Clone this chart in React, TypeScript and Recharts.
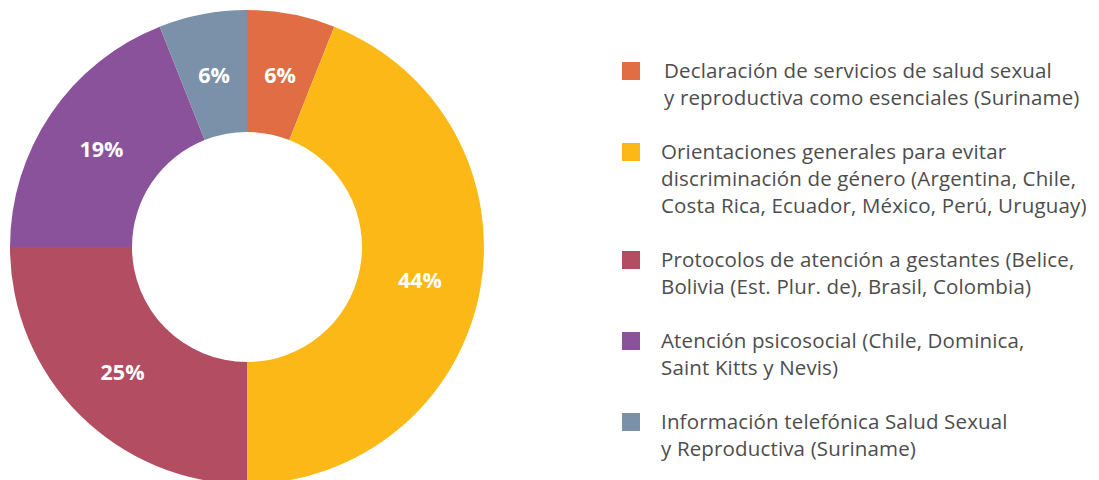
import React from "react";
import { PieChart, Pie, Cell, Legend } from "recharts";

const categories = [
  "Declaración de servicios de salud sexual\ny reproductiva como esenciales (Suriname)",
  "Orientaciones generales para evitar\ndiscriminación de género (Argentina, Chile,\nCosta Rica, Ecuador, México, Perú, Uruguay)",
  "Protocolos de atención a gestantes (Belice,\nBolivia (Est. Plur. de), Brasil, Colombia)",
  "Atención psicosocial (Chile, Dominica,\nSaint Kitts y Nevis)",
  "Información telefónica Salud Sexual\ny Reproductiva (Suriname)",
];
const values = [6, 44, 25, 19, 6];
const colors = ["#E06D43", "#FBB817", "#B34E62", "#8B529C", "#7B91A9"];

const data = categories.map((name, i) => ({ name, value: values[i] }));

const RAD = Math.PI / 180;

const renderLabel = (props: any) => {
  const { cx, cy, midAngle, innerRadius, outerRadius, value } = props;
  const r = (innerRadius + outerRadius) / 2;
  const x = cx + r * Math.cos(-midAngle * RAD);
  const y = cy + r * Math.sin(-midAngle * RAD);
  return (
    <text
      x={x}
      y={y}
      fill="#ffffff"
      textAnchor="middle"
      dominantBaseline="central"
      style={{ fontFamily: "'Open Sans', sans-serif", fontWeight: 700, fontSize: 21.5 }}
    >
      {`${value}%`}
    </text>
  );
};

const renderLegend = () => (
  <div style={{ display: "flex", flexDirection: "column", gap: 27 }}>
    {data.map((d, i) => (
      <div key={i} style={{ display: "flex", alignItems: "flex-start" }}>
        <div
          style={{
            width: 18,
            height: 18,
            background: colors[i],
            marginTop: 4.5,
            marginRight: 21,
            flexShrink: 0,
          }}
        />
        <div
          style={{
            fontFamily: "'Open Sans', sans-serif",
            fontWeight: 400,
            fontSize: 20.5,
            letterSpacing: 0.15,
            lineHeight: "27px",
            color: "#4D4D4D",
            whiteSpace: "pre",
            marginLeft: i === 0 ? 3 : 0,
          }}
        >
          {d.name}
        </div>
      </div>
    ))}
  </div>
);

export default function App() {
  return (
    <div style={{ position: "fixed", left: 0, top: 0, width: 1099, height: 480, background: "#fff" }}>
      <PieChart width={1099} height={480} margin={{ top: 0, right: 0, bottom: 0, left: 0 }}>
        <Pie
          data={data}
          dataKey="value"
          nameKey="name"
          cx={247}
          cy={247}
          innerRadius={115}
          outerRadius={237}
          startAngle={90}
          endAngle={-270}
          stroke="none"
          label={renderLabel}
          labelLine={false}
          isAnimationActive={false}
        >
          {data.map((_, i) => (
            <Cell key={i} fill={colors[i]} />
          ))}
        </Pie>
        <Legend
          content={renderLegend}
          wrapperStyle={{ position: "absolute", left: 622, top: 57, width: 477 }}
        />
      </PieChart>
    </div>
  );
}
